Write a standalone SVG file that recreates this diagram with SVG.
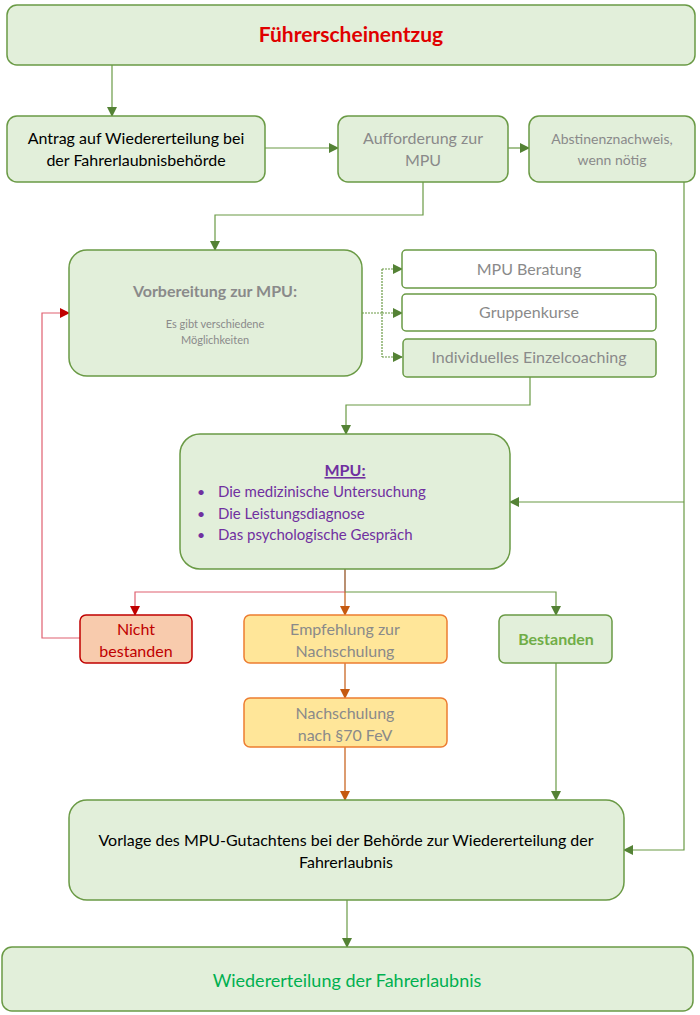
<svg xmlns="http://www.w3.org/2000/svg" width="700" height="1015" viewBox="0 0 700 1015">
<style>
text{font-family:Lato,"Open Sans","Liberation Sans",sans-serif;text-anchor:middle}
.g{fill:#e2efda;stroke:#6a9a45;stroke-width:1.5}
.w{fill:#fff;stroke:#6a9a45;stroke-width:1.5}
.c{fill:none;stroke:#6a9a45;stroke-width:1.2}
.gr{fill:#8a8a8a}
.pu{fill:#7030a0;text-anchor:start}
</style>
<defs>
<marker id="ag" markerWidth="10" markerHeight="10" refX="9" refY="5" orient="auto" markerUnits="userSpaceOnUse"><path d="M0,0L10,5L0,10z" fill="#548235"/></marker>
<marker id="ar" markerWidth="10" markerHeight="10" refX="9" refY="5" orient="auto" markerUnits="userSpaceOnUse"><path d="M0,0L10,5L0,10z" fill="#c00000"/></marker>
<marker id="ao" markerWidth="10" markerHeight="10" refX="9" refY="5" orient="auto" markerUnits="userSpaceOnUse"><path d="M0,0L10,5L0,10z" fill="#c55a11"/></marker>
</defs>
<rect width="700" height="1015" fill="#fff"/>
<g id="connectors">
<path class="c" d="M112,65V116" marker-end="url(#ag)"/>
<path class="c" d="M265,148H338" marker-end="url(#ag)"/>
<path class="c" d="M508,148H529" marker-end="url(#ag)"/>
<path class="c" d="M423,182V215H215V250" marker-end="url(#ag)"/>
<path class="c" d="M362,313H382" stroke-dasharray="2,1"/>
<path class="c" d="M382,269V357" stroke-dasharray="2,1"/>
<path class="c" d="M382,269H402" stroke-dasharray="2,1" marker-end="url(#ag)"/>
<path class="c" d="M382,313H402" stroke-dasharray="2,1" marker-end="url(#ag)"/>
<path class="c" d="M382,357H402" stroke-dasharray="2,1" marker-end="url(#ag)"/>
<path class="c" d="M530,377V405H346V434" marker-end="url(#ag)"/>
<path class="c" d="M684,182V850H624" marker-end="url(#ag)"/>
<path class="c" d="M684,502H510" marker-end="url(#ag)"/>
<path fill="none" stroke="#8b4513" stroke-width="1.2" d="M345,569V592"/>
<path fill="none" stroke="#e06070" stroke-width="1.2" d="M345,592H135V615" marker-end="url(#ar)"/>
<path class="c" d="M345,592H556V615" marker-end="url(#ag)"/>
<path fill="none" stroke="#c55a11" stroke-width="1.2" d="M345,592V615" marker-end="url(#ao)"/>
<path fill="none" stroke="#e06070" stroke-width="1.2" d="M80,638H42V313H69" marker-end="url(#ar)"/>
<path fill="none" stroke="#c55a11" stroke-width="1.2" d="M345,663V698" marker-end="url(#ao)"/>
<path fill="none" stroke="#c55a11" stroke-width="1.2" d="M345,747V800" marker-end="url(#ao)"/>
<path class="c" d="M556,663V800" marker-end="url(#ag)"/>
<path class="c" d="M347,900V947" marker-end="url(#ag)"/>
</g>
<g style="font-size:16px">
<g id="n1"><rect class="g" x="7" y="5" width="688" height="60" rx="10"/><text x="351" y="42" fill="#e00000" font-weight="bold" style="font-size:21px">Führerscheinentzug</text></g>
<g id="n2"><rect class="g" x="7" y="116" width="258" height="66" rx="10"/><text x="136" y="144">Antrag auf Wiedererteilung bei</text><text x="136" y="166">der Fahrerlaubnisbehörde</text></g>
<g id="n3"><rect class="g" x="338" y="116" width="170" height="66" rx="10"/><text class="gr" x="423" y="144">Aufforderung zur</text><text class="gr" x="423" y="166">MPU</text></g>
<g id="n4"><rect class="g" x="529" y="116" width="166" height="66" rx="10"/><text class="gr" x="612" y="144" style="font-size:14px">Abstinenznachweis,</text><text class="gr" x="612" y="165" style="font-size:14px">wenn nötig</text></g>
<g id="n5"><rect class="g" x="69" y="250" width="293" height="126" rx="18"/><text class="gr" x="215" y="297" font-weight="bold">Vorbereitung zur MPU:</text><text class="gr" x="215" y="328" style="font-size:11px">Es gibt verschiedene</text><text class="gr" x="215" y="344" style="font-size:11px">Möglichkeiten</text></g>
<g id="n6"><rect class="w" x="402" y="250" width="254" height="38" rx="4"/><text class="gr" x="529" y="275">MPU Beratung</text></g>
<g id="n7"><rect class="w" x="402" y="294" width="254" height="37" rx="4"/><text class="gr" x="529" y="318">Gruppenkurse</text></g>
<g id="n8"><rect class="g" x="403" y="339" width="253" height="38" rx="4" stroke-width="3"/><text class="gr" x="529" y="363">Individuelles Einzelcoaching</text></g>
<g id="n9"><rect class="g" x="180" y="434" width="330" height="135" rx="20"/><text x="345" y="476" fill="#7030a0" font-weight="bold" text-decoration="underline">MPU:</text>
<text class="pu" x="197" y="497" style="font-size:14px">•</text><text class="pu" x="218" y="497" style="font-size:15px">Die medizinische Untersuchung</text>
<text class="pu" x="197" y="519" style="font-size:14px">•</text><text class="pu" x="218" y="519" style="font-size:15px">Die Leistungsdiagnose</text>
<text class="pu" x="197" y="540" style="font-size:14px">•</text><text class="pu" x="218" y="540" style="font-size:15px">Das psychologische Gespräch</text></g>
<g id="n10"><rect x="80" y="615" width="112" height="48" rx="6" fill="#f8cbad" stroke="#c00000" stroke-width="1.5"/><text x="136" y="635" fill="#c00000">Nicht</text><text x="136" y="657" fill="#c00000">bestanden</text></g>
<g id="n11"><rect x="244" y="615" width="203" height="48" rx="6" fill="#ffe699" stroke="#ed7d31" stroke-width="1.5"/><text class="gr" x="345" y="635">Empfehlung zur</text><text class="gr" x="345" y="657">Nachschulung</text></g>
<g id="n12"><rect class="g" x="499" y="615" width="113" height="48" rx="6"/><text x="556" y="645" fill="#70ad47" font-weight="bold">Bestanden</text></g>
<g id="n13"><rect x="244" y="698" width="203" height="49" rx="6" fill="#ffe699" stroke="#ed7d31" stroke-width="1.5"/><text class="gr" x="345" y="719">Nachschulung</text><text class="gr" x="345" y="741">nach §70 FeV</text></g>
<g id="n14"><rect class="g" x="69" y="800" width="555" height="100" rx="18"/><text x="346" y="846">Vorlage des MPU-Gutachtens bei der Behörde zur Wiedererteilung der</text><text x="346" y="868">Fahrerlaubnis</text></g>
<g id="n15"><rect class="g" x="2" y="947" width="691" height="64" rx="10"/><text x="347" y="987" fill="#00b050" style="font-size:18px">Wiedererteilung der Fahrerlaubnis</text></g>
</g>
</svg>
